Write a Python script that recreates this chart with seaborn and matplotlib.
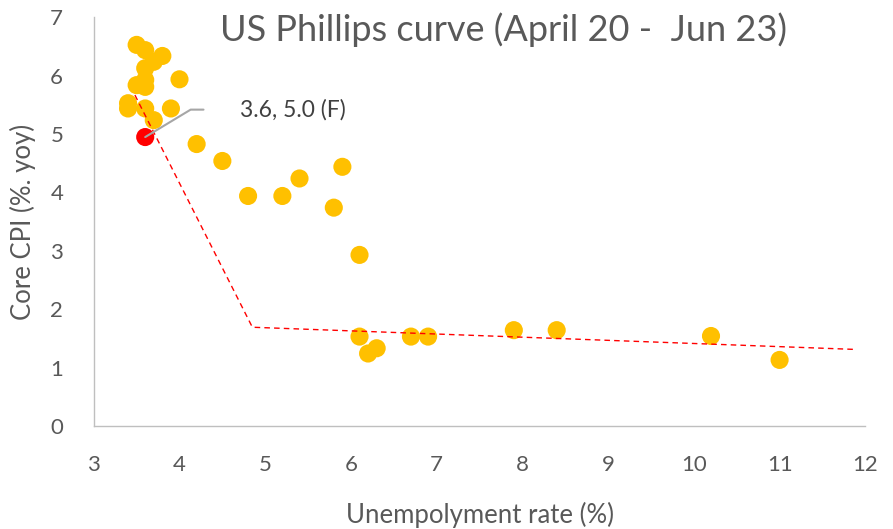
import matplotlib
matplotlib.use("Agg")
import matplotlib.pyplot as plt
import seaborn as sns
import pandas as pd

unemployment = [3.5, 3.6, 3.8, 3.7, 3.6, 4.0, 3.6, 3.5, 3.6, 3.4, 3.4, 3.6, 3.9, 3.7,
                4.2, 4.5, 4.8, 5.2, 5.4, 5.9, 5.8, 6.1, 6.1, 6.3, 6.2, 6.7, 6.9,
                7.9, 8.4, 10.2, 11.0]
core_cpi = [6.53, 6.44, 6.34, 6.24, 6.13, 5.94, 5.93, 5.84, 5.81, 5.53, 5.44, 5.44, 5.44, 5.24,
            4.83, 4.54, 3.94, 3.94, 4.24, 4.44, 3.74, 2.93, 1.53, 1.33, 1.24, 1.53, 1.53,
            1.64, 1.64, 1.54, 1.13]
forecast_x = [3.6]
forecast_y = [4.95]
fit_x = [3.48, 4.85, 11.88]
fit_y = [5.67, 1.69, 1.31]
x_ticks = [3, 4, 5, 6, 7, 8, 9, 10, 11, 12]
y_ticks = [0, 1, 2, 3, 4, 5, 6, 7]

sns.set_style("white")
plt.rcParams['font.family'] = ['Lato', 'DejaVu Sans']

grey = "#595959"
fig = plt.figure(figsize=(8.93, 5.29), dpi=100)
ax = fig.add_axes([0.105, 0.195, 0.864, 0.772])

df = pd.DataFrame({"u": unemployment, "c": core_cpi})
sns.scatterplot(data=df, x="u", y="c", ax=ax, s=170, color="#FFC000",
                edgecolor="none", linewidth=0, zorder=3)
sns.lineplot(x=fit_x, y=fit_y, ax=ax, color="#FF0000", linewidth=1.0,
             linestyle=(0, (4, 3)), zorder=4, sort=False)
sns.scatterplot(x=forecast_x, y=forecast_y, ax=ax, s=170, color="#FF0000",
                edgecolor="none", linewidth=0, zorder=5)

# annotation leader line
ax.plot([3.6, 4.13, 4.28], [4.95, 5.42, 5.42], color="#A6A6A6", linewidth=1.5, zorder=6)
ax.text(4.7, 5.42, "3.6, 5.0 (F)", fontsize=16.5, color="#404040", va="center", ha="left")

ax.set_xlim(3, 12)
ax.set_ylim(0, 7)
ax.set_xticks(x_ticks)
ax.set_yticks(y_ticks)
ax.tick_params(axis="both", length=0, labelsize=16, labelcolor=grey)
ax.tick_params(axis="x", pad=21)
ax.tick_params(axis="y", pad=22)
for side in ["top", "right"]:
    ax.spines[side].set_visible(False)
for side in ["left", "bottom"]:
    ax.spines[side].set_color("#BFBFBF")
    ax.spines[side].set_linewidth(1.0)

ax.set_xlabel("Unempolyment rate (%)", fontsize=18.5, color=grey, labelpad=19)
ax.set_ylabel("Core CPI (%. yoy)", fontsize=18.5, color=grey, labelpad=10)
fig.text(0.564, 0.943, "US Phillips curve (April 20 -  Jun 23)", fontsize=26,
         color=grey, ha="center", va="center")

fig.savefig("out.png", dpi=100)
